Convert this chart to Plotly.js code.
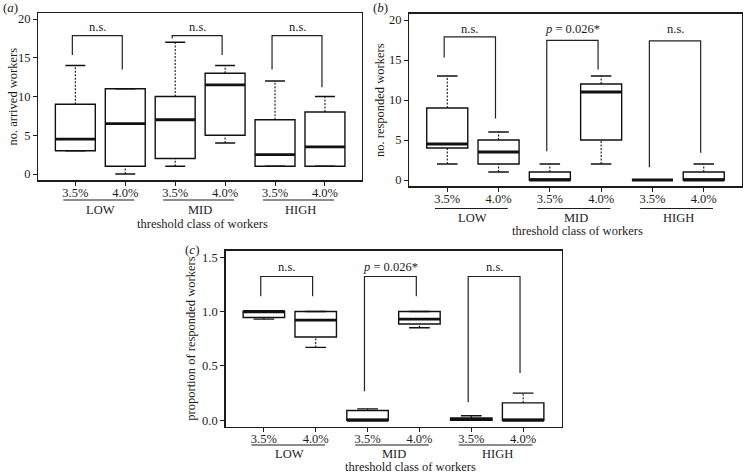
<!DOCTYPE html>
<html><head><meta charset="utf-8">
<script src="https://cdn.plot.ly/plotly-3.0.1.min.js"></script>
<style>html,body{margin:0;padding:0;background:#fff}#chart{width:745px;height:475px}</style>
</head><body><div id="chart"></div>
<script>
// ---------- data ----------
const positions = [1, 2, 3, 4, 5, 6];
const tickLabels = ['3.5%', '4.0%', '3.5%', '4.0%', '3.5%', '4.0%'];
const groupLabels = ['LOW', 'MID', 'HIGH'];
const groupCenters = [1.5, 3.5, 5.5];
const xTitle = 'threshold class of workers';

// (a) no. arrived workers
const arrivedLower = [3, 0, 1, 4, 1, 1];
const arrivedQ1    = [3, 1, 2, 5, 1, 1];
const arrivedMed   = [4.5, 6.5, 7, 11.5, 2.5, 3.5];
const arrivedQ3    = [9, 11, 10, 13, 7, 8];
const arrivedUpper = [14, 11, 17, 14, 12, 10];
const arrivedBracketTop   = [17.85, 17.85, 17.85];
const arrivedBracketLeft  = [15.35, 17.5, 13.5];
const arrivedBracketRight = [13.5, 15.35, 11.2];
const arrivedSig = ['n.s.', 'n.s.', 'n.s.'];

// (b) no. responded workers
const respLower = [2, 1, 0, 2, 0, 0];
const respQ1    = [4, 2, 0, 5, 0, 0];
const respMed   = [4.5, 3.5, 0, 11, 0, 0];
const respQ3    = [9, 5, 1, 12, 0, 1];
const respUpper = [13, 6, 2, 13, 0, 2];
const respBracketTop   = [17.9, 17.45, 17.4];
const respBracketLeft  = [15.3, 3.6, 1.6];
const respBracketRight = [7.7, 13.8, 3.4];
const respSig = ['n.s.', '<i>p</i> = 0.026*', 'n.s.'];

// (c) proportion of responded workers
const propLower = [0.93, 0.67, 0, 0.85, 0, 0];
const propQ1    = [0.945, 0.765, 0, 0.885, 0, 0];
const propMed   = [1.0, 0.92, 0, 0.93, 0.008, 0];
const propQ3    = [1.0, 1.0, 0.09, 1.0, 0.022, 0.16];
const propUpper = [1.0, 1.0, 0.105, 1.0, 0.042, 0.25];
const propBracketTop   = [1.322, 1.322, 1.322];
const propBracketLeft  = [1.14, 0.266, 0.165];
const propBracketRight = [1.14, 1.14, 0.435];
const propSig = ['n.s.', '<i>p</i> = 0.026*', 'n.s.'];

// ---------- layout helpers ----------
const W = 745, H = 475;
const FONT = 'Liberation Serif, Times New Roman, serif';
const INK = '#1c1c1c';
const px = v => v / W, py = v => 1 - v / H;

const panels = [
  {tag: 'a', xa: 'x', ya: 'y', lower: arrivedLower, q1: arrivedQ1, med: arrivedMed, q3: arrivedQ3, upper: arrivedUpper,
   bTop: arrivedBracketTop, bL: arrivedBracketLeft, bR: arrivedBracketRight, sig: arrivedSig, sigY: 19.0,
   yTitle: 'no. arrived workers', yrange: [-0.8, 20.8], yticks: [0, 5, 10, 15, 20], fmt: 'd',
   dom: {x: [38.4, 361.9], y: [12.8, 180.2]}, lineY: 200, grpY: 209.5, titleY: 224, titleX: 202, yTitleX: 12, tagXY: [10.5, 8]},
  {tag: 'b', xa: 'x2', ya: 'y2', lower: respLower, q1: respQ1, med: respMed, q3: respQ3, upper: respUpper,
   bTop: respBracketTop, bL: respBracketLeft, bR: respBracketRight, sig: respSig, sigY: 18.85,
   yTitle: 'no. responded workers', yrange: [-0.8, 20.8], yticks: [0, 5, 10, 15, 20], fmt: 'd',
   dom: {x: [409.3, 741.7], y: [13.6, 186.4]}, lineY: 208.5, grpY: 218.5, titleY: 231, titleX: 577, yTitleX: 380, tagXY: [380, 8]},
  {tag: 'c', xa: 'x3', ya: 'y3', lower: propLower, q1: propQ1, med: propMed, q3: propQ3, upper: propUpper,
   bTop: propBracketTop, bL: propBracketLeft, bR: propBracketRight, sig: propSig, sigY: 1.41,
   yTitle: 'proportion of responded workers', yrange: [-0.06, 1.56], yticks: [0, 0.5, 1, 1.5], fmt: '.1f',
   dom: {x: [225.5, 561.5], y: [250.6, 426.8]}, lineY: 445, grpY: 453.5, titleY: 466.5, titleX: 411, yTitleX: 191, tagXY: [192, 249]}
];

const BOXW = 0.8, CAPW = 0.4, BOFF = -0.06;
const traces = [], shapes = [], annotations = [];
const layout = {
  width: W, height: H, margin: {l: 0, r: 0, t: 0, b: 0},
  paper_bgcolor: '#fff', plot_bgcolor: '#fff', showlegend: false,
  font: {family: FONT, size: 12, color: INK}
};

panels.forEach((p, i) => {
  const sfx = i === 0 ? '' : String(i + 1);
  layout['xaxis' + sfx] = {
    domain: [px(p.dom.x[0]), px(p.dom.x[1])], anchor: p.ya, range: [0.26, 6.74],
    tickvals: positions, ticktext: tickLabels, ticks: 'outside', ticklen: 4, tickwidth: 1, tickcolor: INK,
    ticklabelstandoff: -4,
    showline: true, mirror: true, linecolor: INK, linewidth: 1.3, showgrid: false, zeroline: false,
    tickfont: {family: FONT, size: 12.5, color: INK}, fixedrange: true
  };
  layout['yaxis' + sfx] = {
    domain: [py(p.dom.y[1]), py(p.dom.y[0])], anchor: p.xa, range: p.yrange,
    tickvals: p.yticks, tickformat: p.fmt, ticks: 'outside', ticklen: 4, tickwidth: 1, tickcolor: INK,
    showline: true, mirror: true, linecolor: INK, linewidth: 1.3, showgrid: false, zeroline: false,
    tickfont: {family: FONT, size: 12.5, color: INK}, fixedrange: true
  };

  // boxes (no whiskers from Plotly)
  traces.push({
    type: 'box', x: positions, q1: p.q1, median: p.med, q3: p.q3, lowerfence: p.q1, upperfence: p.q3,
    width: BOXW, whiskerwidth: 0, boxpoints: false, fillcolor: '#fff',
    line: {color: '#111', width: 1.4}, xaxis: p.xa, yaxis: p.ya, hoverinfo: 'skip'
  });

  // whiskers (dashed)
  const wx = [], wy = [];
  positions.forEach((c, k) => {
    if (p.upper[k] > p.q3[k]) { wx.push(c, c, null); wy.push(p.q3[k], p.upper[k], null); }
    if (p.lower[k] < p.q1[k]) { wx.push(c, c, null); wy.push(p.lower[k], p.q1[k], null); }
  });
  traces.push({type: 'scatter', mode: 'lines', x: wx, y: wy, xaxis: p.xa, yaxis: p.ya,
    line: {color: '#111', width: 1.1, dash: '2px,1.5px'}, hoverinfo: 'skip'});

  // caps
  const cx = [], cy = [];
  positions.forEach((c, k) => {
    cx.push(c - CAPW / 2, c + CAPW / 2, null); cy.push(p.upper[k], p.upper[k], null);
    cx.push(c - CAPW / 2, c + CAPW / 2, null); cy.push(p.lower[k], p.lower[k], null);
  });
  traces.push({type: 'scatter', mode: 'lines', x: cx, y: cy, xaxis: p.xa, yaxis: p.ya,
    line: {color: '#111', width: 1.4}, hoverinfo: 'skip'});

  // medians (thick)
  const mx = [], my = [];
  positions.forEach((c, k) => { mx.push(c - BOXW / 2, c + BOXW / 2, null); my.push(p.med[k], p.med[k], null); });
  traces.push({type: 'scatter', mode: 'lines', x: mx, y: my, xaxis: p.xa, yaxis: p.ya,
    line: {color: '#111', width: 2.8}, hoverinfo: 'skip'});

  // significance brackets
  const bx = [], by = [];
  groupCenters.forEach((g, j) => {
    const l = positions[2 * j] + BOFF, r = positions[2 * j + 1] + BOFF;
    bx.push(l, l, r, r, null); by.push(p.bL[j], p.bTop[j], p.bTop[j], p.bR[j], null);
    annotations.push({xref: p.xa, yref: p.ya, x: g + BOFF, y: p.sigY, text: p.sig[j], showarrow: false,
      xanchor: 'center', yanchor: 'middle', font: {family: FONT, size: 12.5, color: INK}});
  });
  traces.push({type: 'scatter', mode: 'lines', x: bx, y: by, xaxis: p.xa, yaxis: p.ya,
    line: {color: '#222', width: 1.2}, hoverinfo: 'skip'});

  // group underlines + labels
  groupCenters.forEach((g, j) => {
    shapes.push({type: 'line', xref: p.xa, yref: 'paper', x0: positions[2 * j] - 0.24, x1: positions[2 * j + 1] + 0.18,
      y0: py(p.lineY), y1: py(p.lineY), line: {color: INK, width: 1.1}});
    annotations.push({xref: p.xa, yref: 'paper', x: g, y: py(p.grpY), text: groupLabels[j], showarrow: false,
      xanchor: 'center', yanchor: 'middle', font: {family: FONT, size: 12.5, color: INK}});
  });

  // axis titles
  annotations.push({xref: 'paper', yref: 'paper', x: px(p.titleX), y: py(p.titleY), text: xTitle, showarrow: false,
    xanchor: 'center', yanchor: 'middle', font: {family: FONT, size: 12.5, color: INK}});
  annotations.push({xref: 'paper', yref: 'paper', x: px(p.yTitleX), y: (py(p.dom.y[0]) + py(p.dom.y[1])) / 2,
    text: p.yTitle, textangle: -90, showarrow: false, xanchor: 'center', yanchor: 'middle',
    font: {family: FONT, size: 12.5, color: INK}});
  // panel tag
  annotations.push({xref: 'paper', yref: 'paper', x: px(p.tagXY[0]), y: py(p.tagXY[1]), text: '(<i>' + p.tag + '</i>)',
    showarrow: false, xanchor: 'center', yanchor: 'middle', font: {family: FONT, size: 13, color: INK}});
});

layout.shapes = shapes;
layout.annotations = annotations;
Plotly.newPlot('chart', traces, layout, {staticPlot: true, displayModeBar: false});
</script>
</body></html>
